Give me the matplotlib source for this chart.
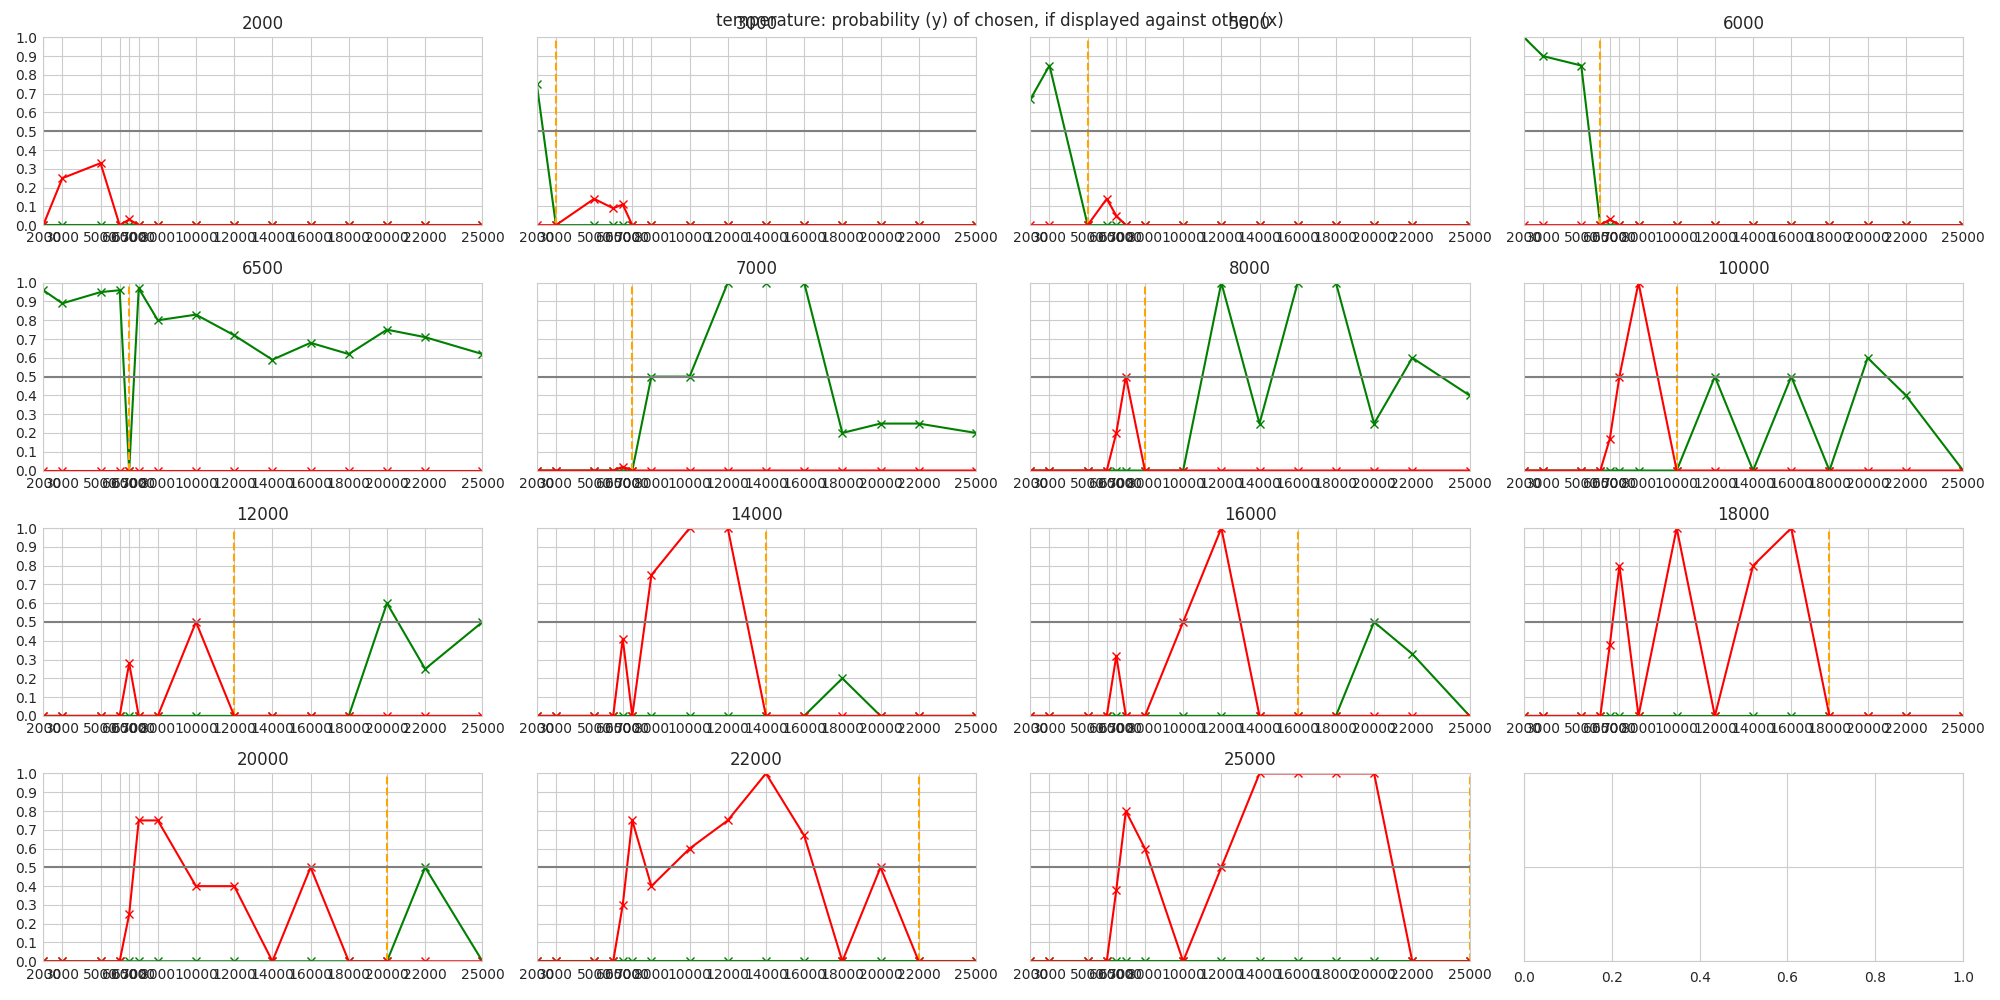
import numpy as np
import matplotlib
matplotlib.use('Agg')
import matplotlib.pyplot as plt
import seaborn as sns

sns.set_style('whitegrid')

temps = [2000, 3000, 5000, 6000, 6500, 7000, 8000, 10000, 12000, 14000, 16000, 18000, 20000, 22000, 25000]

# red / green series per chosen temperature (values at each "other" temperature)
red = {
    2000:  [0, .25, .33, 0, .03, 0, 0, 0, 0, 0, 0, 0, 0, 0, 0],
    3000:  [0, 0, .14, .09, .11, 0, 0, 0, 0, 0, 0, 0, 0, 0, 0],
    5000:  [0, 0, 0, .14, .05, 0, 0, 0, 0, 0, 0, 0, 0, 0, 0],
    6000:  [0, 0, 0, 0, .03, 0, 0, 0, 0, 0, 0, 0, 0, 0, 0],
    6500:  [0, 0, 0, 0, 0, 0, 0, 0, 0, 0, 0, 0, 0, 0, 0],
    7000:  [0, 0, 0, 0, .02, 0, 0, 0, 0, 0, 0, 0, 0, 0, 0],
    8000:  [0, 0, 0, 0, .2, .5, 0, 0, 0, 0, 0, 0, 0, 0, 0],
    10000: [0, 0, 0, 0, .17, .5, 1.0, 0, 0, 0, 0, 0, 0, 0, 0],
    12000: [0, 0, 0, 0, .28, 0, 0, .5, 0, 0, 0, 0, 0, 0, 0],
    14000: [0, 0, 0, 0, .41, 0, .75, 1.0, 1.0, 0, 0, 0, 0, 0, 0],
    16000: [0, 0, 0, 0, .32, 0, 0, .5, 1.0, 0, 0, 0, 0, 0, 0],
    18000: [0, 0, 0, 0, .38, .8, 0, 1.0, 0, .8, 1.0, 0, 0, 0, 0],
    20000: [0, 0, 0, 0, .25, .75, .75, .4, .4, 0, .5, 0, 0, 0, 0],
    22000: [0, 0, 0, 0, .3, .75, .4, .6, .75, 1.0, .67, 0, .5, 0, 0],
    25000: [0, 0, 0, 0, .38, .8, .6, 0, .5, 1.0, 1.0, 1.0, 1.0, 0, 0],
}
green = {
    2000:  [0] * 15,
    3000:  [.75, 0, 0, 0, 0, 0, 0, 0, 0, 0, 0, 0, 0, 0, 0],
    5000:  [.67, .85, 0, 0, 0, 0, 0, 0, 0, 0, 0, 0, 0, 0, 0],
    6000:  [1.0, .9, .85, 0, 0, 0, 0, 0, 0, 0, 0, 0, 0, 0, 0],
    6500:  [.96, .89, .95, .96, 0, .97, .80, .83, .72, .59, .68, .62, .75, .71, .62],
    7000:  [0, 0, 0, 0, 0, 0, .5, .5, 1.0, 1.0, 1.0, .2, .25, .25, .2],
    8000:  [0, 0, 0, 0, 0, 0, 0, 0, 1.0, .25, 1.0, 1.0, .25, .6, .4],
    10000: [0, 0, 0, 0, 0, 0, 0, 0, .5, 0, .5, 0, .6, .4, 0],
    12000: [0, 0, 0, 0, 0, 0, 0, 0, 0, 0, 0, 0, .6, .25, .5],
    14000: [0, 0, 0, 0, 0, 0, 0, 0, 0, 0, 0, .2, 0, 0, 0],
    16000: [0, 0, 0, 0, 0, 0, 0, 0, 0, 0, 0, 0, .5, .33, 0],
    18000: [0] * 15,
    20000: [0, 0, 0, 0, 0, 0, 0, 0, 0, 0, 0, 0, 0, .5, 0],
    22000: [0] * 15,
    25000: [0] * 15,
}

fig, axes = plt.subplots(4, 4, figsize=(20, 10))
axes = axes.flatten()

for i, t in enumerate(temps):
    ax = axes[i]
    ax.plot(temps, green[t], color='green', marker='x')
    ax.axvline(t, color='orange', linestyle='--')
    ax.plot(temps, red[t], color='red', marker='x')
    ax.axhline(0.5, color='grey')
    ax.set_title(str(t))
    ax.set_xlim(2000, 25000)
    ax.set_ylim(0, 1)
    ax.set_xticks(temps)
    ax.set_xticklabels([str(x) for x in temps])
    ax.set_yticks(np.round(np.arange(0, 1.01, 0.1), 1))
    if i % 4 != 0:
        ax.set_yticklabels([])
    ax.tick_params(pad=1)

# last empty panel
axes[15].set_ylim(0, 1)
axes[15].set_yticks([0, 0.5, 1])
axes[15].set_yticklabels([])

plt.tight_layout()
fig.suptitle('temperature: probability (y) of chosen, if displayed against other (x)', y=0.988)
plt.savefig('out.png', dpi=100)
plt.close()
